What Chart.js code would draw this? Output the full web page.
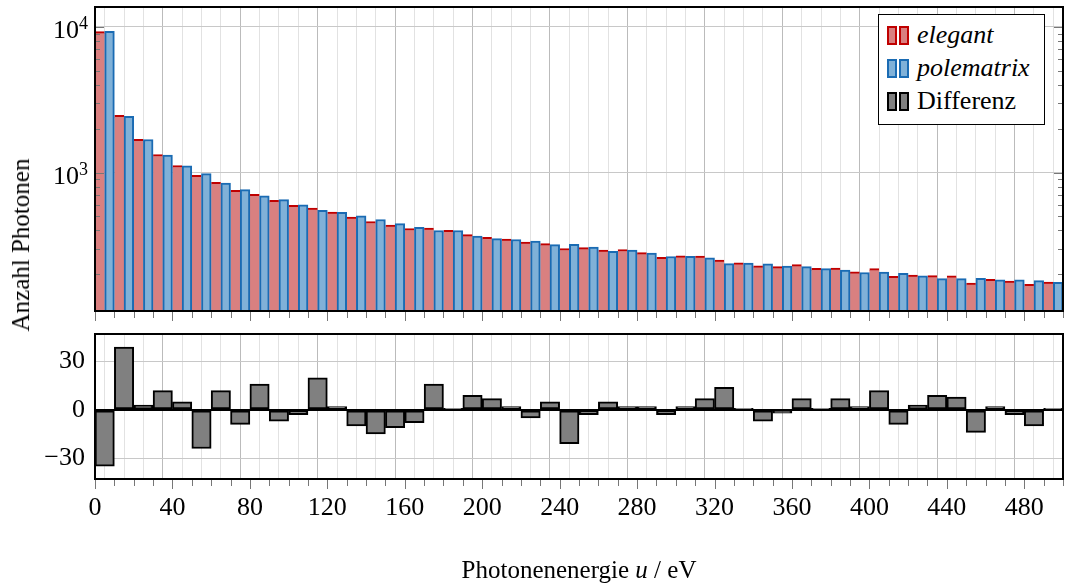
<!DOCTYPE html>
<html>
<head>
<meta charset="utf-8">
<script src="https://cdn.jsdelivr.net/npm/chart.js@4.4.0/dist/chart.umd.min.js"></script>
<style>
  body { margin: 0; background: #fff; font-family: "Liberation Serif", serif; }
  #wrap { position: relative; width: 1065px; height: 587px; }
  #top { position: absolute; left: 0; top: 0; width: 1065px; height: 322px; }
  #bottom { position: absolute; left: 0; top: 322px; width: 1065px; height: 265px; }
  #ytitle { position: absolute; left: 21px; top: 245px; transform: translate(-50%, -50%) rotate(-90deg);
            font-size: 25px; white-space: nowrap; }
  #xtitle { position: absolute; left: 579px; top: 570px; transform: translate(-50%, -50%);
            font-size: 25px; white-space: nowrap; }
  #legend { position: absolute; left: 878px; top: 14px; width: 165px; height: 109px;
            border: 1px solid #000; background: #fff; }
  .row { position: absolute; left: 8px; height: 32px; font-size: 26px; line-height: 32px; }
  .ic { position: absolute; top: 7px; width: 6px; height: 15px; border: 2px solid; }
  .row span.t { position: absolute; left: 30px; white-space: nowrap; }
</style>
</head>
<body>
<div id="wrap">
  <div id="top"><canvas id="c1"></canvas></div>
  <div id="bottom"><canvas id="c2"></canvas></div>
  <div id="ytitle">Anzahl Photonen</div>
  <div id="xtitle">Photonenenergie <i>u</i> / eV</div>
  <div id="legend">
    <div class="row" style="top:4px">
      <div class="ic" style="left:0;background:#d98080;border-color:#c00000"></div>
      <div class="ic" style="left:12px;background:#d98080;border-color:#c00000"></div>
      <span class="t"><i>elegant</i></span>
    </div>
    <div class="row" style="top:37px">
      <div class="ic" style="left:0;background:#80b1d8;border-color:#1a6bb3"></div>
      <div class="ic" style="left:12px;background:#80b1d8;border-color:#1a6bb3"></div>
      <span class="t"><i>polematrix</i></span>
    </div>
    <div class="row" style="top:70px">
      <div class="ic" style="left:0;background:#808080;border-color:#000"></div>
      <div class="ic" style="left:12px;background:#808080;border-color:#000"></div>
      <span class="t">Differenz</span>
    </div>
  </div>
</div>
<script>
const binStart = [0,10,20,30,40,50,60,70,80,90,100,110,120,130,140,150,160,170,180,190,
  200,210,220,230,240,250,260,270,280,290,300,310,320,330,340,350,360,370,380,390,
  400,410,420,430,440,450,460,470,480,490];

const elegant = [9280,2472,1689,1331,1117,958,858,755,708,644,596,571,536,495,461,435,413,416,401,375,
  359,349,333,325,301,305,293,296,282,262,268,267,251,240,229,226,233,220,221,208,
  219,194,198,196,195,174,185,180,171,177];

const polematrix = [9315,2433,1686,1319,1112,982,846,764,692,651,599,551,534,505,476,446,421,400,400,366,
  352,347,338,320,322,308,288,294,280,265,266,260,237,239,236,228,226,219,214,206,
  207,203,195,187,187,188,183,183,181,176];

const differenz = [-35,39,3,12,5,-24,12,-9,16,-7,-3,20,2,-10,-15,-11,-8,16,1,9,
  7,2,-5,5,-21,-3,5,2,2,-3,2,7,14,1,-7,-2,7,1,7,2,
  12,-9,3,9,8,-14,2,-3,-10,1];

const logMajor = [1000, 10000];
const logMinor = [200,300,400,500,600,700,800,900,2000,3000,4000,5000,6000,7000,8000,9000];
const diffTicks = [-30, 0, 30];

const SERIF = "'Liberation Serif', serif";
const FONT = { family: SERIF, size: 26 };

function noPad(s) { s.paddingTop = 0; s.paddingBottom = 0; s.paddingLeft = 0; s.paddingRight = 0; }

const frame = {
  id: 'frame',
  afterDraw(chart) {
    const a = chart.chartArea, ctx = chart.ctx;
    const x = chart.scales.x, y = chart.scales.y;
    ctx.save();
    // x tick marks below the frame
    ctx.strokeStyle = '#777';
    ctx.lineWidth = 1;
    ctx.beginPath();
    x.ticks.forEach(t => {
      const p = Math.round(x.getPixelForValue(t.value)) + 0.5;
      const len = t.value % 40 === 0 ? 10 : 7;
      ctx.moveTo(p, a.bottom); ctx.lineTo(p, a.bottom + len);
    });
    ctx.stroke();
    if (chart.canvas.id === 'c1') {
      ctx.strokeStyle = '#777';
      ctx.beginPath();
      logMinor.forEach(v => {
        const p = Math.round(y.getPixelForValue(v)) + 0.5;
        ctx.moveTo(a.left, p); ctx.lineTo(a.left + 5, p);
        ctx.moveTo(a.right - 5, p); ctx.lineTo(a.right, p);
      });
      logMajor.forEach(v => {
        const p = Math.round(y.getPixelForValue(v)) + 0.5;
        ctx.moveTo(a.left, p); ctx.lineTo(a.left + 9, p);
        ctx.moveTo(a.right - 9, p); ctx.lineTo(a.right, p);
      });
      ctx.stroke();
      // tick labels 10^n with a raised exponent
      ctx.fillStyle = '#000';
      ctx.textAlign = 'right';
      ctx.textBaseline = 'alphabetic';
      logMajor.forEach(v => {
        const p = y.getPixelForValue(v);
        const e = String(Math.round(Math.log10(v)));
        ctx.font = '18px ' + SERIF;
        const ew = ctx.measureText(e).width;
        ctx.fillText(e, 88, p + 2);
        ctx.font = '26px ' + SERIF;
        ctx.fillText('10', 88 - ew, p + 11);
      });
    }
    ctx.strokeStyle = '#000';
    ctx.lineWidth = 2;
    ctx.strokeRect(a.left, a.top, a.right - a.left, a.bottom - a.top);
    ctx.restore();
  }
};

const xGrid = {
  color: c => (c.tick && c.tick.value % 40 === 0) ? '#bbbbbb' : '#e2e2e2',
  drawTicks: false,
  lineWidth: 1
};

new Chart(document.getElementById('c1'), {
  type: 'bar',
  data: {
    datasets: [{
      label: 'elegant',
      data: elegant.map((v, i) => ({ x: binStart[i] + 2.5, y: v })),
      backgroundColor: '#d98080',
      borderColor: '#c00000',
      borderWidth: { top: 2, left: 0, right: 0, bottom: 0 },
      grouped: false,
      barPercentage: 1,
      categoryPercentage: 1,
      order: 2
    }, {
      label: 'polematrix',
      data: polematrix.map((v, i) => ({ x: binStart[i] + 7.5, y: v })),
      backgroundColor: '#80b1d8',
      borderColor: '#1a6bb3',
      borderWidth: 2,
      borderSkipped: 'bottom',
      grouped: false,
      barPercentage: 1,
      categoryPercentage: 1,
      order: 1
    }]
  },
  options: {
    responsive: true,
    maintainAspectRatio: false,
    animation: false,
    layout: { padding: { top: 7, right: 2, left: 0, bottom: 0 } },
    plugins: { legend: { display: false }, tooltip: { enabled: false } },
    scales: {
      x: {
        type: 'linear', min: 0, max: 500, offset: false,
        ticks: { display: false, stepSize: 10, autoSkip: false },
        grid: xGrid,
        border: { display: false },
        afterFit: s => { s.height = 11; noPad(s); }
      },
      y: {
        type: 'logarithmic', min: 112, max: 13700,
        afterBuildTicks: s => { s.ticks = logMajor.map(v => ({ value: v })); },
        ticks: { display: false },
        grid: { color: '#c8c8c8', drawTicks: false },
        border: { display: false },
        afterFit: s => { s.width = 95; noPad(s); }
      }
    }
  },
  plugins: [frame]
});

new Chart(document.getElementById('c2'), {
  type: 'bar',
  data: {
    datasets: [{
      label: 'Differenz',
      data: differenz.map((v, i) => ({ x: binStart[i] + 5, y: v })),
      backgroundColor: '#808080',
      borderColor: '#000',
      borderWidth: 2,
      borderSkipped: false,
      barPercentage: 1,
      categoryPercentage: 1
    }]
  },
  options: {
    responsive: true,
    maintainAspectRatio: false,
    animation: false,
    layout: { padding: { top: 12, right: 2, left: 0, bottom: 0 } },
    plugins: { legend: { display: false }, tooltip: { enabled: false } },
    scales: {
      x: {
        type: 'linear', min: 0, max: 500, offset: false,
        ticks: {
          stepSize: 10, autoSkip: false, maxRotation: 0, font: FONT, color: '#000', padding: 14,
          callback: v => v % 40 === 0 ? String(v) : ''
        },
        grid: xGrid,
        border: { display: false },
        afterFit: s => { s.height = 108; noPad(s); }
      },
      y: {
        min: -43, max: 47.2,
        afterBuildTicks: s => { s.ticks = diffTicks.map(v => ({ value: v })); },
        ticks: {
          font: FONT, color: '#000', padding: 10,
          callback: v => v < 0 ? '\u2212' + Math.abs(v) : String(v)
        },
        grid: {
          color: c => (c.tick && c.tick.value === 0) ? '#000' : '#c8c8c8',
          lineWidth: c => (c.tick && c.tick.value === 0) ? 2 : 1,
          drawTicks: false
        },
        border: { display: false },
        afterFit: s => { s.width = 95; noPad(s); }
      }
    }
  },
  plugins: [frame]
});
</script>
</body>
</html>
